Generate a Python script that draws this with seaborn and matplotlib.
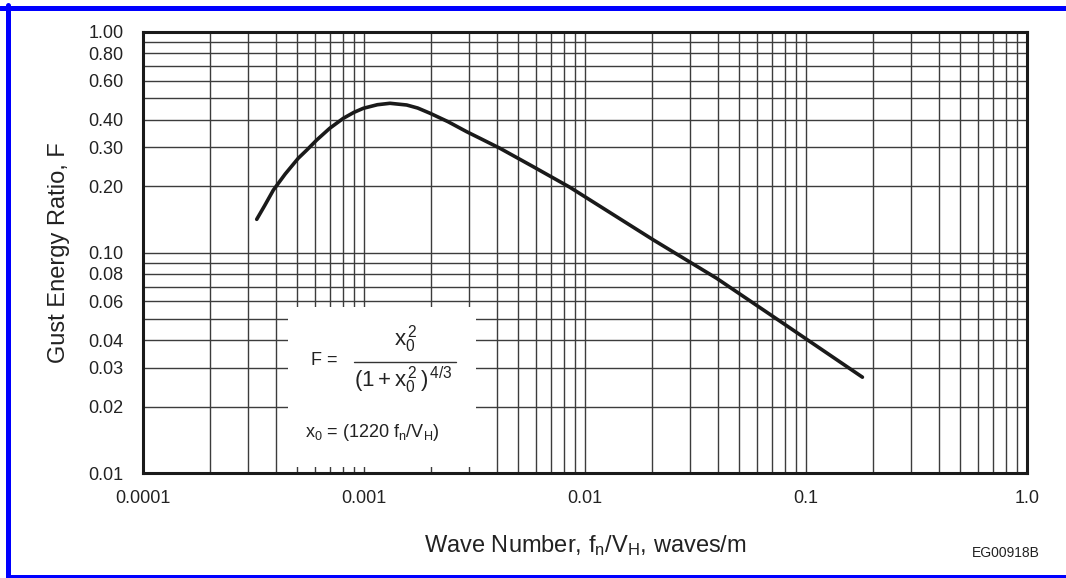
import matplotlib.pyplot as plt
import matplotlib.ticker as mticker
from matplotlib.patches import Rectangle
from matplotlib.lines import Line2D
import seaborn as sns
import pandas as pd

# curve (wave number, gust energy ratio)
wave_number = [3.27e-4, 3.55e-4, 3.89e-4, 4.4e-4, 5.04e-4, 5.5e-4, 6.11e-4, 7.0e-4,
               8.06e-4, 9.0e-4, 9.93e-4, 1.15e-3, 1.311e-3, 1.56e-3, 1.75e-3,
               1.99e-3, 2.4e-3, 2.915e-3, 3.4e-3, 4.12e-3, 5.83e-3, 8.55e-3,
               0.0204, 0.0394, 0.0789, 0.180]
energy_ratio = [0.1414, 0.163, 0.192, 0.227, 0.2675, 0.291, 0.3237, 0.366,
                0.406, 0.432, 0.4508, 0.468, 0.475, 0.4666, 0.452,
                0.428, 0.392, 0.353, 0.327, 0.297, 0.245, 0.1975,
                0.114, 0.0764, 0.0477, 0.0272]

x_ticks = [0.0001, 0.001, 0.01, 0.1, 1.0]
x_labels = ["0.0001", "0.001", "0.01", "0.1", "1.0"]
y_ticks = [0.01, 0.02, 0.03, 0.04, 0.06, 0.08, 0.10, 0.20, 0.30, 0.40, 0.60, 0.80, 1.00]
y_labels = ["0.01", "0.02", "0.03", "0.04", "0.06", "0.08", "0.10",
            "0.20", "0.30", "0.40", "0.60", "0.80", "1.00"]

sns.set_theme(style="white")
plt.rcParams["font.family"] = ["Liberation Sans", "DejaVu Sans"]
plt.rcParams["mathtext.fontset"] = "custom"
plt.rcParams["mathtext.rm"] = "Liberation Sans"
plt.rcParams["mathtext.it"] = "Liberation Sans"

df = pd.DataFrame({"wave": wave_number, "F": energy_ratio})

fig = plt.figure(figsize=(10.66, 5.78), dpi=100)
ax = fig.add_axes([143 / 1066, 105 / 578, 884 / 1066, 441 / 578])
ax.set_xscale("log")
ax.set_yscale("log")

sns.lineplot(data=df, x="wave", y="F", ax=ax, color="#1a1a1a", linewidth=2.6,
             sort=False, zorder=3)

ax.set_xlim(1e-4, 1.0)
ax.set_ylim(0.01, 1.0)

ax.xaxis.set_major_locator(mticker.FixedLocator(x_ticks))
ax.xaxis.set_major_formatter(mticker.FixedFormatter(x_labels))
ax.xaxis.set_minor_locator(mticker.LogLocator(base=10, subs=range(2, 10), numticks=20))
ax.xaxis.set_minor_formatter(mticker.NullFormatter())

minor_y = [m * 10.0 ** e for e in (-2, -1) for m in range(1, 10)]
minor_y = [v for v in minor_y if all(abs(v - t) > 1e-9 for t in y_ticks)]
ax.yaxis.set_major_locator(mticker.FixedLocator(y_ticks))
ax.yaxis.set_major_formatter(mticker.FixedFormatter(y_labels))
ax.yaxis.set_minor_locator(mticker.FixedLocator(minor_y))
ax.yaxis.set_minor_formatter(mticker.NullFormatter())

ax.grid(True, which="both", color="#3c3c3c", linewidth=1.0)
ax.set_axisbelow(True)
ax.tick_params(which="both", length=0)
ax.tick_params(axis="y", labelsize=13, pad=14, labelcolor="#222222")
ax.tick_params(axis="x", labelsize=13, pad=12, labelcolor="#222222")

for s in ax.spines.values():
    s.set_color("#1a1a1a")
    s.set_linewidth(2.2)
    s.set_visible(True)

ax.set_xlabel("Wave Number, f$_\\mathrm{n}$/V$_\\mathrm{H}$, waves/m", fontsize=17,
              labelpad=19, color="#222222")
ax.set_ylabel("Gust Energy Ratio, F", fontsize=17, labelpad=13, color="#222222")

# white box holding the formula
ax.add_patch(Rectangle((4.53e-4, 0.01064), 3.21e-3 - 4.53e-4, 0.0566 - 0.01064,
                       facecolor="white", edgecolor="none", zorder=1))

ax.text(5.75e-4, 0.0325, "F =", fontsize=13, ha="left", va="center", color="#222222")
ax.text(1.55e-3, 0.0405, r"$\mathrm{x}_{0}^{\,2}$", fontsize=16, ha="center", va="center",
        color="#222222")
ax.plot([9.0e-4, 2.6e-3], [0.0319, 0.0319], color="#333333", linewidth=1.0, zorder=3)
ax.text(1.5e-3, 0.0262, r"$(1 + \mathrm{x}_{0}^{\,2}\,)^{\,4/3}$", fontsize=16,
        ha="center", va="center", color="#222222")
ax.text(5.4e-4, 0.0152, r"x$_0$ = (1220 f$_\mathrm{n}$/V$_\mathrm{H}$)", fontsize=13,
        ha="left", va="center", color="#222222")

fig.text(1040 / 1066, 1 - 553 / 578, "EG00918B", fontsize=10, ha="right", va="center",
         color="#222222")

# blue frame
blue = "#0000ff"
fig.add_artist(Line2D([0, 1], [1 - 7.5 / 578] * 2, color=blue, linewidth=3.6,
                      transform=fig.transFigure))
fig.add_artist(Line2D([7.5 / 1066] * 2, [0, 1 - 5 / 578], color=blue, linewidth=3.6,
                      transform=fig.transFigure))
fig.add_artist(Line2D([7.5 / 1066, 1], [1.5 / 578] * 2, color=blue, linewidth=3.6,
                      transform=fig.transFigure))

fig.savefig("out.png", dpi=100)
